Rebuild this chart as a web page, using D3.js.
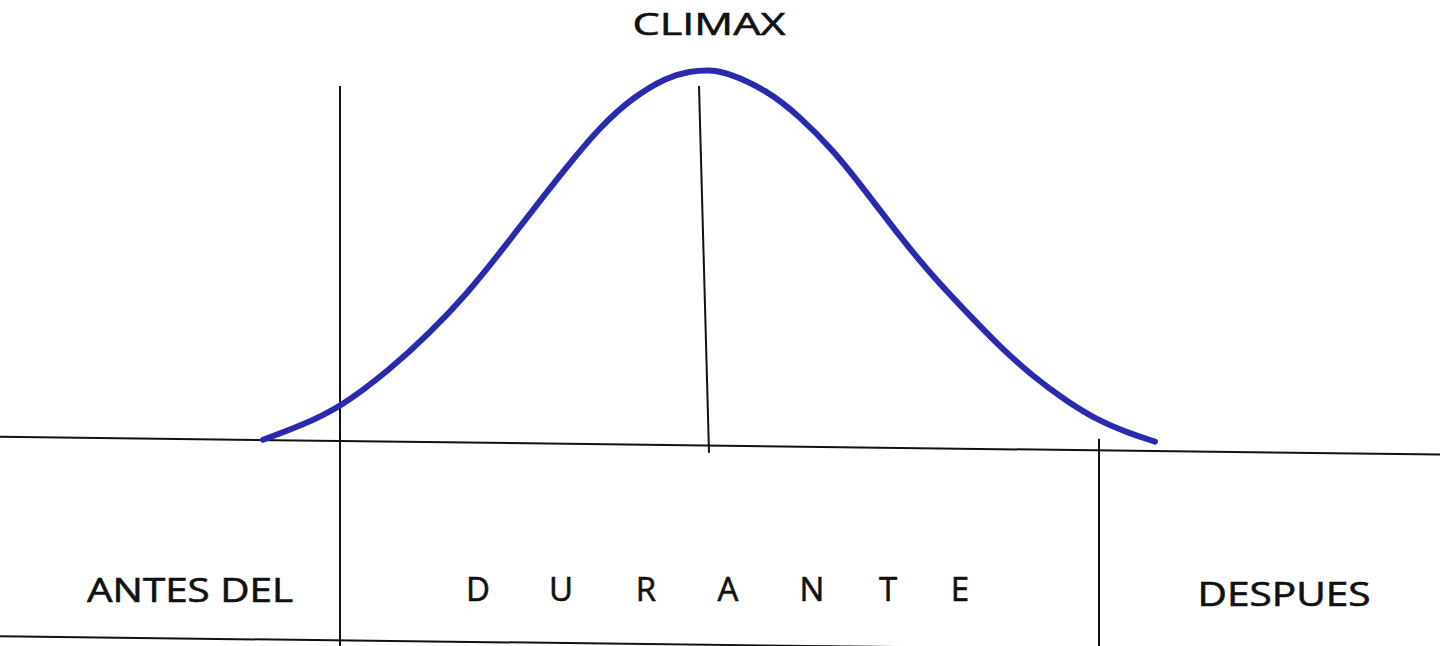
<!DOCTYPE html>
<html>
<head>
<meta charset="utf-8">
<script src="https://cdn.jsdelivr.net/npm/d3@7"></script>
<style>
  body { margin: 0; background: #fff; }
  text { font-family: "Open Sans", Lato, sans-serif; fill: #111; stroke: #111; stroke-width: 0.6px; }
</style>
</head>
<body>
<script>
//size svg variable
var outerWidth = 1440;
var outerHeight = 646;

//curve data: position (x) and intensity (v)
var curveX = [263, 300, 340, 390, 430, 467, 500, 533, 567, 600, 633, 667, 690, 708, 725, 767, 800, 833, 867, 900, 933, 967, 1000, 1033, 1067, 1100, 1130, 1155];
var curveV = [0.5, 4.2, 9.1, 19.4, 29.3, 39.8, 50.8, 62.4, 74.0, 84.7, 92.7, 98.1, 99.7, 100, 99.6, 94.6, 87.4, 78.5, 66.9, 55.1, 44.4, 34.7, 25.5, 17.5, 10.8, 5.4, 2.2, 0];

//guide lines [x1, v1, x2, v2]
var baseLine = [0, 1.3, 1440, -3.5];
var bottomLine = [0, -52.4, 1440, -57];
var dividers = [
  [340, 95.7, 340, -55],
  [699, 95.7, 709, -3],
  [1099, 0.8, 1099, -55]
];

//labels
var phaseLabels = ["ANTES DEL", "DESPUES"];
var phaseX = [190, 1284];
var phaseWidth = [206, 173];
var durante = ["D", "U", "R", "A", "N", "T", "E"];
var duranteX = [478, 561, 646, 728, 812, 888, 960];
var peakLabel = "CLIMAX";

//insert svg in body
var svg = d3.select("body").append("svg")
.attr("width", outerWidth)
.attr("height", outerHeight);

//scales
var xScale = d3.scaleLinear().domain([0, 1440]).range([0, outerWidth]);
var yScale = d3.scaleLinear().domain([-55, 100]).range([646, 70]);

renderLines();
renderCurve();
renderLabels();

function renderLines(){
  var all = [baseLine, bottomLine].concat(dividers);
  svg.selectAll("line.guide")
  .data(all)
  .enter()
  .append("line")
  .attr("class", "guide")
  .attr("x1", (d)=>xScale(d[0]))
  .attr("y1", (d)=>yScale(d[1]))
  .attr("x2", (d)=>xScale(d[2]))
  .attr("y2", (d)=>yScale(d[3]))
  .attr("stroke", "#111")
  .attr("stroke-width", 2);
}

function renderCurve(){
  var pts = curveX.map((x, i)=>[x, curveV[i]]);
  var line = d3.line()
  .x((d)=>xScale(d[0]))
  .y((d)=>yScale(d[1]))
  .curve(d3.curveBasis);

  svg.append("path")
  .datum(pts)
  .attr("d", line)
  .attr("fill", "none")
  .attr("stroke", "#2a2aae")
  .attr("stroke-width", 6)
  .attr("stroke-linecap", "round");
}

function renderLabels(){
  svg.append("text")
  .attr("x", xScale(709))
  .attr("y", 35)
  .attr("text-anchor", "middle")
  .attr("font-size", 31)
  .attr("textLength", 153)
  .attr("lengthAdjust", "spacingAndGlyphs")
  .text(peakLabel);

  svg.selectAll("text.phase")
  .data(phaseLabels)
  .enter()
  .append("text")
  .attr("class", "phase")
  .attr("x", (d, i)=>xScale(phaseX[i]))
  .attr("y", (d, i)=>i == 0 ? 602 : 606)
  .attr("text-anchor", "middle")
  .attr("font-size", 32)
  .attr("textLength", (d, i)=>phaseWidth[i])
  .attr("lengthAdjust", "spacingAndGlyphs")
  .text((d)=>d);

  svg.selectAll("text.durante")
  .data(durante)
  .enter()
  .append("text")
  .attr("class", "durante")
  .attr("x", (d, i)=>xScale(duranteX[i]))
  .attr("y", 601)
  .attr("text-anchor", "middle")
  .attr("font-size", 33)
  .text((d)=>d);
}
</script>
</body>
</html>
